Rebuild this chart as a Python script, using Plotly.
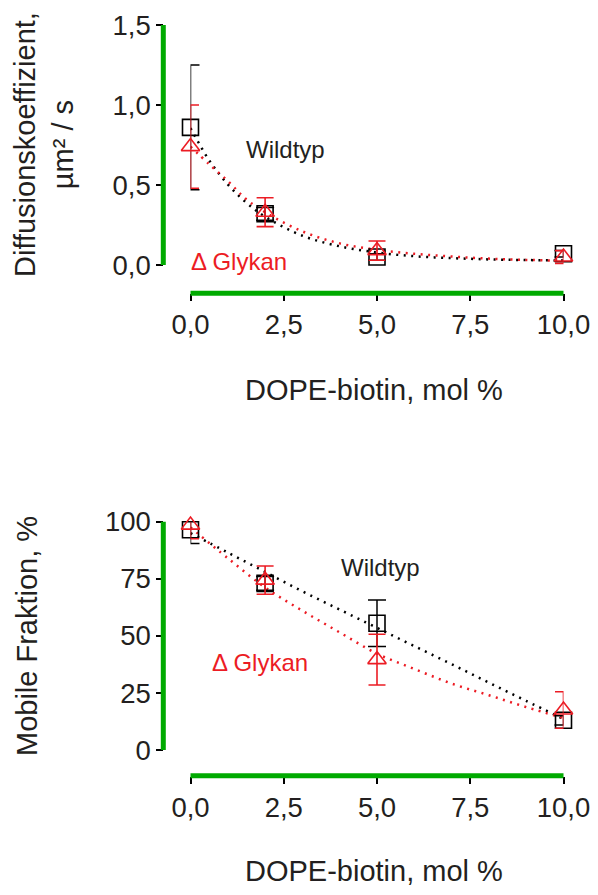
import plotly.graph_objects as go

# ---------------- data ----------------
dope = [0, 2, 5, 10]

diff_wt = [0.86, 0.32, 0.05, 0.07]
diff_wt_err = [0.39, 0.04, 0.02, 0.02]
diff_gly = [0.74, 0.33, 0.09, 0.05]
diff_gly_err = [0.26, 0.09, 0.06, 0.04]

mob_wt = [96.5, 73, 55.5, 13]
mob_wt_err = [6, 3, 10.2, 2]
mob_gly = [98.5, 74.4, 39.6, 17.5]
mob_gly_err = [6, 6.2, 11.1, 8]

fit_x_top = [0, 0.5, 1, 1.5, 2, 3, 4, 5, 6, 7, 8, 9, 10]
fit_diff_wt = [0.855, 0.655, 0.504, 0.389, 0.302, 0.183, 0.117, 0.078, 0.055, 0.043, 0.035, 0.031, 0.028]
fit_diff_gly = [0.74, 0.63, 0.525, 0.41, 0.33, 0.21, 0.135, 0.095, 0.07, 0.053, 0.04, 0.032, 0.027]

fit_x_bot = [0, 1, 2, 3, 4, 5, 6, 7, 8, 9, 10]
fit_mob_wt = [95, 86.5, 78, 69.5, 61.5, 53.5, 45.5, 37.6, 29.5, 21.5, 13.6]
fit_mob_gly = [97.5, 84, 71.2, 61, 51.5, 42.2, 35.5, 29.1, 24, 18.8, 14]

x_tickvals = [0, 2.5, 5, 7.5, 10]
x_ticktext = ["0,0", "2,5", "5,0", "7,5", "10,0"]
y1_tickvals = [0, 0.5, 1.0, 1.5]
y1_ticktext = ["0,0", "0,5", "1,0", "1,5"]
y2_tickvals = [0, 25, 50, 75, 100]
y2_ticktext = ["0", "25", "50", "75", "100"]

# ---------------- style / geometry ----------------
W, H = 598, 895
BLACK = "#000000"
TXT = "#231F20"
RED = "#EC1C24"
FONT = "Arial, Liberation Sans, sans-serif"
DASH = "2px,5.5px"
AXW = 2.4
AXIS_LINE_COLOR = "#00AA00"   # debug colour
AXIS_LINE_W = 5

X_LEFT, X_RIGHT = 190.5, 563.5
Y_AXIS_X = 163.3
TOP_Y0, TOP_Y1 = 265, 25
BOT_Y0, BOT_Y1 = 750, 521.7
TOP_XAXIS_Y, BOT_XAXIS_Y = 293.3, 775.7


def px(x):
    return x / W


def py(y):
    return 1 - y / H


fig = go.Figure()


def add_panel(xa, ya, fx, fwt, fgly, ywt, ywt_err, ygly, ygly_err):
    fig.add_trace(go.Scatter(x=fx, y=fwt, mode="lines", xaxis=xa, yaxis=ya,
                             line=dict(color=BLACK, width=2.5, dash=DASH, shape="spline"),
                             hoverinfo="skip", showlegend=False))
    fig.add_trace(go.Scatter(x=fx, y=fgly, mode="lines", xaxis=xa, yaxis=ya,
                             line=dict(color=RED, width=2.5, dash=DASH, shape="spline"),
                             hoverinfo="skip", showlegend=False))
    fig.add_trace(go.Scatter(x=dope, y=ywt, mode="markers", xaxis=xa, yaxis=ya,
                             marker=dict(symbol="square-open", size=16, color=BLACK,
                                         line=dict(width=1.6, color=BLACK)),
                             error_y=dict(type="data", array=ywt_err, visible=True,
                                          color=BLACK, thickness=1.5, width=9),
                             cliponaxis=False, showlegend=False))
    fig.add_trace(go.Scatter(x=dope, y=ygly, mode="markers", xaxis=xa, yaxis=ya,
                             marker=dict(symbol="triangle-up-open", size=16, color=RED,
                                         line=dict(width=1.6, color=RED)),
                             error_y=dict(type="data", array=ygly_err, visible=True,
                                          color=RED, thickness=1.6, width=8.5),
                             cliponaxis=False, showlegend=False))


add_panel("x", "y", fit_x_top, fit_diff_wt, fit_diff_gly,
          diff_wt, diff_wt_err, diff_gly, diff_gly_err)
add_panel("x2", "y2", fit_x_bot, fit_mob_wt, fit_mob_gly,
          mob_wt, mob_wt_err, mob_gly, mob_gly_err)

fig.add_trace(go.Scatter(
    x=[X_LEFT, X_RIGHT, None, X_LEFT, X_RIGHT, None,
       Y_AXIS_X, Y_AXIS_X, None, Y_AXIS_X, Y_AXIS_X],
    y=[TOP_XAXIS_Y, TOP_XAXIS_Y, None, BOT_XAXIS_Y, BOT_XAXIS_Y, None,
       TOP_Y1, TOP_Y0, None, BOT_Y1, BOT_Y0],
    mode="lines", xaxis="x3", yaxis="y3",
    line=dict(color=AXIS_LINE_COLOR, width=AXIS_LINE_W),
    hoverinfo="skip", showlegend=False, cliponaxis=False, connectgaps=False))

axis_common = dict(showline=False, ticks="outside",
                   ticklen=7, tickwidth=AXW, tickcolor=BLACK, showgrid=False,
                   zeroline=False, automargin=False,
                   tickfont=dict(family=FONT, size=27.5, color=TXT))

x_dom = [px(X_LEFT), px(X_RIGHT)]
y1_dom = [py(TOP_Y0), py(TOP_Y1)]
y2_dom = [py(BOT_Y0), py(BOT_Y1)]
y_pos = px(Y_AXIS_X)
x1_pos = py(TOP_XAXIS_Y)
x2_pos = py(BOT_XAXIS_Y)

fig.update_layout(
    width=W, height=H,
    margin=dict(l=0, r=0, t=0, b=0),
    paper_bgcolor="white", plot_bgcolor="rgba(0,0,0,0)",
    showlegend=False,
    xaxis=dict(**axis_common, domain=x_dom, range=[0, 10], anchor="free",
               position=x1_pos, tickvals=x_tickvals, ticktext=x_ticktext),
    yaxis=dict(**axis_common, domain=y1_dom, range=[0, 1.5], anchor="free",
               position=y_pos, tickvals=y1_tickvals, ticktext=y1_ticktext),
    xaxis2=dict(**axis_common, domain=x_dom, range=[0, 10], anchor="free",
                position=x2_pos, tickvals=x_tickvals, ticktext=x_ticktext),
    yaxis2=dict(**axis_common, domain=y2_dom, range=[0, 100], anchor="free",
                position=y_pos, tickvals=y2_tickvals, ticktext=y2_ticktext),
    xaxis3=dict(domain=[0, 1], range=[0, W], visible=False, anchor="y3",
                automargin=False, fixedrange=True),
    yaxis3=dict(domain=[0, 1], range=[H, 0], visible=False, anchor="x3",
                automargin=False, fixedrange=True),
)

title_font = dict(family=FONT, size=29, color=TXT)
ann_font_b = dict(family=FONT, size=24, color=TXT)
ann_font_r = dict(family=FONT, size=24, color=RED)

annotations = [
    dict(text="DOPE-biotin, mol %", x=px(374), y=py(390), font=title_font),
    dict(text="DOPE-biotin, mol %", x=px(374), y=py(871), font=title_font),
    dict(text="Diffusionskoeffizient,<br>µm² / s", x=px(44), y=py(145),
         textangle=-90, font=title_font),
    dict(text="Mobile Fraktion, %", x=px(27), y=py(636), textangle=-90, font=title_font),
    dict(text="Wildtyp", x=px(285), y=py(150), font=ann_font_b),
    dict(text="Δ Glykan", x=px(239), y=py(261), font=ann_font_r),
    dict(text="Wildtyp", x=px(380), y=py(567), font=ann_font_b),
    dict(text="Δ Glykan", x=px(260), y=py(662), font=ann_font_r),
]
for a in annotations:
    a.update(xref="paper", yref="paper", showarrow=False,
             xanchor="center", yanchor="middle")
fig.update_layout(annotations=annotations)

fig.write_html("out.html")
